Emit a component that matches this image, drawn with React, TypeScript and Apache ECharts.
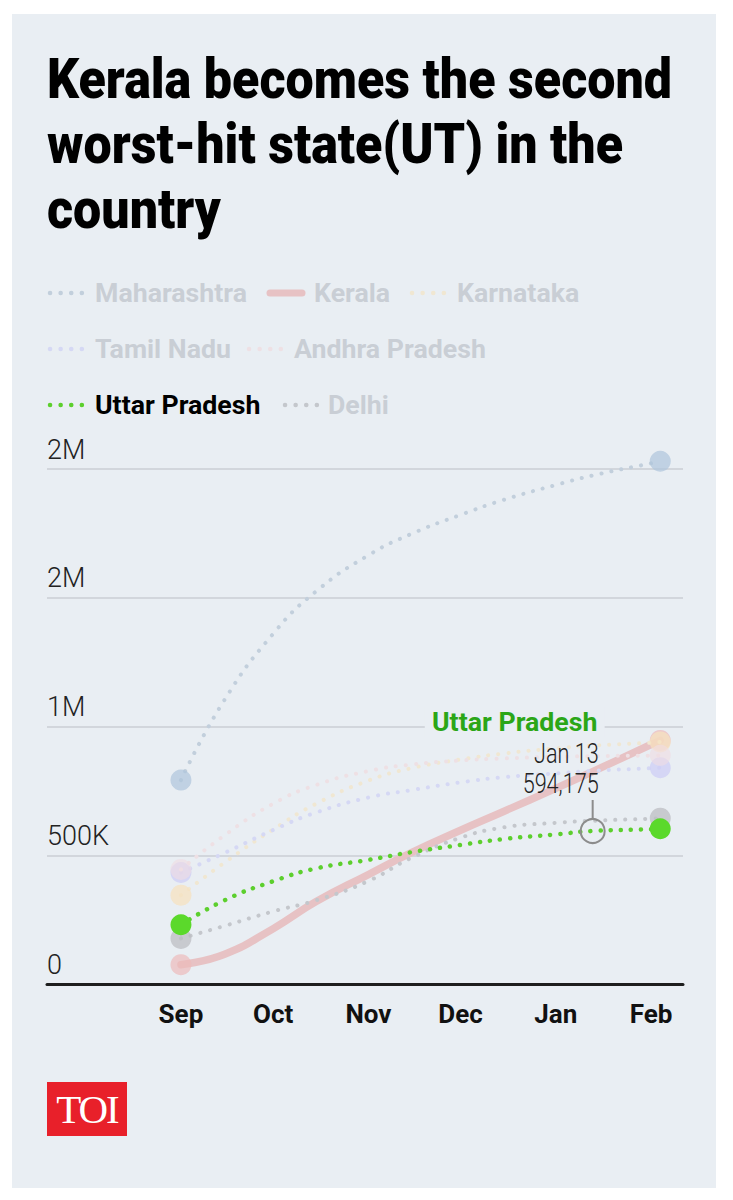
import React, { useEffect, useRef } from "react";
import * as echarts from "echarts";

// ---------- data ----------
const TITLE_LINES = ["Kerala becomes the second", "worst-hit state(UT) in the", "country"];
const dates = [
  "2020-09-01", "2020-09-15", "2020-10-01", "2020-10-15", "2020-11-01", "2020-11-15",
  "2020-12-01", "2020-12-15", "2021-01-01", "2021-01-13", "2021-02-01", "2021-02-04",
];
const maharashtra = [792000, 1100000, 1360000, 1525000, 1665000, 1748000, 1822000, 1880000, 1938000, 1975000, 2022000, 2030000];
const kerala = [75000, 115000, 215000, 320000, 425000, 510000, 597000, 670000, 760000, 825000, 930000, 946000];
const karnataka = [345000, 470000, 600000, 700000, 790000, 838000, 872000, 895000, 915000, 926000, 937000, 940000];
const tamilNadu = [433000, 508000, 598000, 666000, 724000, 753000, 783000, 803000, 818000, 828000, 838000, 840000];
const andhraPradesh = [445000, 576000, 700000, 773000, 827000, 852000, 868000, 876000, 882000, 885000, 887000, 888000];
const uttarPradesh = [230000, 324000, 399000, 449000, 482000, 512000, 540000, 563000, 581000, 594175, 601000, 603000];
const delhi = [177000, 225000, 282000, 325000, 400000, 490000, 568000, 608000, 626000, 634000, 642000, 644000];

const monthTicks = ["2020-09-01", "2020-10-01", "2020-11-01", "2020-12-01", "2021-01-01", "2021-02-01"];
const monthNames = ["Jan", "Feb", "Mar", "Apr", "May", "Jun", "Jul", "Aug", "Sep", "Oct", "Nov", "Dec"];
const annotationDate = "2021-01-13";
const annotationValue = 594175;
const annotationLabel = "Jan 13";
const annotationSeries = "Uttar Pradesh";

// ---------- styling ----------
const FONT = "Roboto";
const PANEL = "#e9eef3";
const FADED_TEXT = "#c9ced5";
const DAY = 86400000;
const ORIGIN = "2020-09-01";

function ts(d: string) {
  const [y, m, dd] = d.split("-").map(Number);
  return Date.UTC(y, m - 1, dd);
}
function dayOf(d: string) {
  return Math.round((ts(d) - ts(ORIGIN)) / DAY);
}

type SeriesDef = {
  name: string;
  values: number[];
  color: string;
  marker: string;
  solid?: boolean;
  width: number;
  legendText: string;
};

const seriesDefs: SeriesDef[] = [
  { name: "Kerala", values: kerala, color: "#e7c2c4", marker: "rgba(236,186,186,0.7)", solid: true, width: 7.5, legendText: FADED_TEXT },
  { name: "Maharashtra", values: maharashtra, color: "#c2cfdc", marker: "rgba(174,197,220,0.7)", width: 4, legendText: FADED_TEXT },
  { name: "Karnataka", values: karnataka, color: "#f0e7d2", marker: "rgba(246,226,192,0.75)", width: 4, legendText: FADED_TEXT },
  { name: "Tamil Nadu", values: tamilNadu, color: "#d5d8f4", marker: "rgba(206,206,246,0.75)", width: 4, legendText: FADED_TEXT },
  { name: "Andhra Pradesh", values: andhraPradesh, color: "#eee0e4", marker: "rgba(240,220,226,0.6)", width: 4, legendText: FADED_TEXT },
  { name: "Delhi", values: delhi, color: "#c4c7cc", marker: "rgba(188,190,195,0.75)", width: 4, legendText: FADED_TEXT },
  { name: "Uttar Pradesh", values: uttarPradesh, color: "#5ccf2d", marker: "#5bd92b", width: 4.5, legendText: "#000" },
];

// legend layout (positions only)
const legendLayout: { name: string; x: number; textX: number; y: number }[] = [
  { name: "Maharashtra", x: 50, textX: 95, y: 293 },
  { name: "Kerala", x: 270, textX: 314, y: 293 },
  { name: "Karnataka", x: 412, textX: 457, y: 293 },
  { name: "Tamil Nadu", x: 50, textX: 95, y: 349 },
  { name: "Andhra Pradesh", x: 249, textX: 294, y: 349 },
  { name: "Uttar Pradesh", x: 50, textX: 95, y: 405 },
  { name: "Delhi", x: 285, textX: 328, y: 405 },
];

function fmtY(v: number) {
  if (v >= 1e6) return Math.round(v / 1e6) + "M";
  if (v >= 1e3) return Math.round(v / 1e3) + "K";
  return String(v);
}

let measureCtx: CanvasRenderingContext2D | null = null;
function measure(text: string, font: string) {
  if (!measureCtx) measureCtx = document.createElement("canvas").getContext("2d");
  measureCtx!.font = font;
  return measureCtx!.measureText(text).width;
}

export default function App() {
  const ref = useRef<HTMLDivElement>(null);

  useEffect(() => {
    document.body.style.margin = "0";
    const chart = echarts.init(ref.current!, undefined, { renderer: "svg" });

    // horizontal condensing factors (reference uses a condensed face)
    const titleScale = 625 / measure(TITLE_LINES[0], `900 55px ${FONT}`);
    const legendScale = 152 / measure("Maharashtra", `bold 26px ${FONT}`);
    const numScale = 76 / measure(annotationValue.toLocaleString("en-US"), `300 28px ${FONT}`);

    const series = seriesDefs.map((s, k) => {
      const last = s.values.length - 1;
      return {
        type: "line",
        name: s.name,
        z: 2 + k,
        smooth: 0.5,
        clip: false,
        silent: true,
        data: dates.map((d, i) => [dayOf(d), s.values[i]]),
        showSymbol: true,
        showAllSymbol: true,
        symbol: "circle",
        symbolSize: (_v: any, p: any) => (p.dataIndex === 0 || p.dataIndex === last ? 21 : 0),
        itemStyle: { color: s.marker },
        lineStyle: s.solid
          ? { color: s.color, width: s.width, cap: "round" }
          : { color: s.color, width: s.width, type: [0.1, 10], cap: "round" },
        emphasis: { disabled: true },
      };
    });

    const staticGraphics: any[] = [];
    TITLE_LINES.forEach((line, i) => {
      staticGraphics.push({
        type: "text",
        x: 47,
        y: 79 + i * 65,
        scaleX: titleScale,
        style: { text: line, fill: "#000", fontFamily: FONT, fontWeight: 900, fontSize: 55, verticalAlign: "middle", align: "left" },
      });
    });
    legendLayout.forEach((l) => {
      const s = seriesDefs.find((d) => d.name === l.name)!;
      staticGraphics.push({
        type: "line",
        shape: { x1: l.x, y1: l.y, x2: s.solid ? l.x + 32 : l.x + 33, y2: l.y },
        style: s.solid
          ? { stroke: s.color, lineWidth: 7, lineCap: "round" }
          : { stroke: s.color, lineWidth: 4.5, lineDash: [0.1, 10.5], lineCap: "round" },
      });
      staticGraphics.push({
        type: "text",
        x: l.textX,
        y: l.y,
        scaleX: legendScale,
        style: { text: l.name, fill: s.legendText, fontFamily: FONT, fontWeight: "bold", fontSize: 26, verticalAlign: "middle", align: "left" },
      });
    });

    chart.setOption({
      animation: false,
      backgroundColor: "transparent",
      grid: { left: 47, right: 50, top: 469, bottom: 216, containLabel: false },
      xAxis: {
        type: "value",
        min: dayOf("2020-09-01") - 43.6,
        max: dayOf("2021-02-01") + 10.4,
        axisLine: { lineStyle: { color: "#1e1e1e", width: 3 } },
        axisTick: { show: false },
        splitLine: { show: false },
        axisLabel: {
          customValues: monthTicks.map(dayOf),
          formatter: (v: number) => monthNames[new Date(ts(ORIGIN) + v * DAY).getUTCMonth()],
          fontFamily: FONT,
          fontWeight: "bold",
          fontSize: 26,
          color: "#111",
          margin: 17,
        },
      },
      yAxis: {
        type: "value",
        min: 0,
        max: 2000000,
        interval: 500000,
        axisLine: { show: false },
        axisTick: { show: false },
        splitLine: { lineStyle: { color: "#d2d6dc", width: 2 } },
        axisLabel: {
          inside: true,
          margin: 0,
          align: "left",
          verticalAlign: "bottom",
          padding: [0, 0, 6, 0],
          fontFamily: FONT,
          fontWeight: 300,
          fontSize: 27,
          color: "#222",
          formatter: fmtY,
        },
      },
      series,
      graphic: staticGraphics,
    });

    const pt = chart.convertToPixel({ xAxisIndex: 0, yAxisIndex: 0 }, [dayOf(annotationDate), annotationValue]) as number[];
    const upColor = "#2ba617";
    chart.setOption({
      graphic: [
        ...staticGraphics,
        {
          type: "circle",
          z: 100,
          shape: { cx: pt[0], cy: pt[1], r: 12 },
          style: { fill: "none", stroke: "#8c8c8c", lineWidth: 2 },
        },
        {
          type: "line",
          z: 100,
          shape: { x1: pt[0], y1: pt[1] - 31, x2: pt[0], y2: pt[1] - 12 },
          style: { stroke: "#8c8c8c", lineWidth: 2 },
        },
        {
          type: "text",
          z: 100,
          x: pt[0] + 6,
          y: pt[1] - 48,
          scaleX: numScale,
          style: { text: annotationValue.toLocaleString("en-US"), fill: "#222", fontFamily: FONT, fontWeight: 300, fontSize: 28, align: "right", verticalAlign: "middle" },
        },
        {
          type: "text",
          z: 100,
          x: pt[0] + 6,
          y: pt[1] - 78,
          scaleX: numScale,
          style: { text: annotationLabel, fill: "#222", fontFamily: FONT, fontWeight: 300, fontSize: 28, align: "right", verticalAlign: "middle" },
        },
        {
          type: "text",
          z: 100,
          x: pt[0] + 12,
          y: pt[1] - 109,
          scaleX: legendScale,
          style: {
            text: annotationSeries,
            fill: upColor,
            fontFamily: FONT,
            fontWeight: "bold",
            fontSize: 26,
            align: "right",
            verticalAlign: "middle",
            backgroundColor: PANEL,
            padding: [2, 7, 2, 7],
          },
        },
      ],
    });

    return () => chart.dispose();
  }, []);

  return (
    <div style={{ position: "relative", width: 733, height: 1200, background: "#fff" }}>
      <div style={{ position: "absolute", left: 12, top: 14, width: 704, height: 1174, background: PANEL }} />
      <div
        style={{
          position: "absolute",
          left: 47,
          top: 1082,
          width: 80,
          height: 54,
          background: "#e8202a",
          color: "#fff",
          fontFamily: "'Liberation Serif', 'DejaVu Serif', serif",
          fontSize: 41,
          lineHeight: "54px",
          textAlign: "center",
          letterSpacing: -2,
        }}
      >
        TOI
      </div>
      <div ref={ref} style={{ position: "absolute", left: 0, top: 0, width: 733, height: 1200 }} />
    </div>
  );
}
